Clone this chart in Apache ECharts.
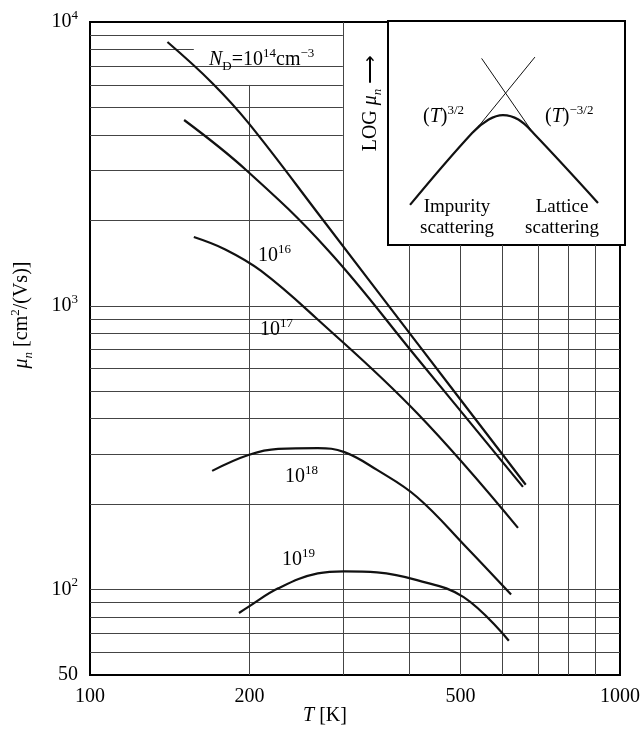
<!DOCTYPE html>
<html>
<head>
<meta charset="utf-8">
<script src="https://cdn.jsdelivr.net/npm/echarts@6/dist/echarts.min.js"></script>
<style>
  html, body { margin: 0; padding: 0; background: #fff; }
  #chart { width: 643px; height: 730px; }
</style>
</head>
<body>
<div id="chart"></div>
<script>
// electron mobility in Si vs temperature
// T in K, mu in cm2/(Vs)
const tND14 = [140, 170, 199, 275, 414, 664]
const muND14 = [8500, 6100, 4410, 2010, 740, 234]

const tND16 = [150.5, 197, 281, 414, 656]
const muND16 = [4515, 3010, 1573, 655, 230]

const tND17 = [157, 180, 210, 267, 414, 642]
const muND17 = [1748, 1580, 1330, 906, 419, 165]

const tND18 = [170, 199, 226.5, 269, 302, 348, 414, 513, 623]
const muND18 = [262, 298, 313, 315, 305, 264, 212, 141, 96]

const tND19 = [191, 199, 226.5, 269, 302, 348, 414, 507, 617]
const muND19 = [82.7, 86.9, 101, 114, 116, 115, 108, 94, 66]

// inset sketch (arbitrary log units, 0..10)
const insetCurveX = [0.93, 3.55, 4.25, 4.85, 5.50, 6.15, 8.86]
const insetCurveY = [1.79, 5.00, 5.60, 5.80, 5.60, 4.98, 1.88]
const insetRiseX = [3.80, 6.20]
const insetRiseY = [5.27, 8.39]
const insetFallX = [3.95, 6.13]
const insetFallY = [8.33, 4.99]

// graph paper lines
const tGrid = [200, 300, 400, 500, 600, 700, 800, 900]
const muGrid = [60, 70, 80, 90, 100, 200, 300, 400, 500, 600, 700, 800, 900, 1000,
  2000, 3000, 4000, 5000, 6000, 7000, 8000, 9000]

// how far each paper line runs (stops at the inset box)
const tGridTop = [6000, 10000, 1640, 1640, 1640, 1640, 1640, 1640]
const muGridEnd = [1000, 1000, 1000, 1000, 1000, 1000, 1000, 1000, 1000, 1000, 1000, 1000, 1000, 1000,
  300, 300, 300, 300, 300, 300, 157, 300]

const FONT = 'Liberation Serif'
const pairs = (xs, ys) => xs.map((x, i) => [x, ys[i]])

const rich = {
  b: { fontFamily: FONT, fontSize: 20, lineHeight: 26, color: '#000' },
  i: { fontFamily: FONT, fontSize: 20, lineHeight: 26, fontStyle: 'italic', color: '#000' },
  s: { fontFamily: FONT, fontSize: 13, lineHeight: 13, verticalAlign: 'top', color: '#000' },
  sub: { fontFamily: FONT, fontSize: 13, lineHeight: 13, verticalAlign: 'bottom', color: '#000' },
  isub: { fontFamily: FONT, fontSize: 13, lineHeight: 13, verticalAlign: 'bottom', fontStyle: 'italic', color: '#000' }
}

const gridLines = []
tGrid.forEach((t, i) => {
  gridLines.push([{ coord: [t, 50] }, { coord: [t, tGridTop[i]] }])
})
muGrid.forEach((m, i) => {
  gridLines.push([{ coord: [100, m] }, { coord: [muGridEnd[i], m] }])
})

function curve (name, xs, ys) {
  return {
    name: name,
    type: 'line',
    xAxisIndex: 0,
    yAxisIndex: 0,
    data: pairs(xs, ys),
    smooth: 0.4,
    symbol: 'none',
    lineStyle: { color: '#111', width: 2.2 },
    z: 5
  }
}

function label (x, y, text, extra) {
  return Object.assign({
    type: 'text',
    x: x,
    y: y,
    z: 100,
    style: {
      text: text,
      rich: rich,
      fontFamily: FONT,
      fontSize: 20,
      fill: '#000',
      align: 'left',
      verticalAlign: 'middle'
    }
  }, extra || {})
}

const chart = echarts.init(document.getElementById('chart'))
const option = {
  animation: false,
  backgroundColor: '#fff',
  grid: [
    { left: 90, top: 22, right: 18, bottom: 55, show: true, borderColor: '#000', borderWidth: 2 },
    { left: 388, top: 21, width: 237, height: 224, show: true, backgroundColor: '#fff', borderColor: '#000', borderWidth: 2 }
  ],
  xAxis: [
    {
      type: 'log',
      logBase: 10,
      min: 100,
      max: 1000,
      gridIndex: 0,
      axisLine: { show: false },
      axisTick: { show: false },
      splitLine: { show: false },
      axisLabel: {
        customValues: [100, 200, 500, 1000],
        fontFamily: FONT,
        fontSize: 20,
        color: '#000',
        margin: 12,
        formatter: v => String(Math.round(v))
      }
    },
    { type: 'value', gridIndex: 1, min: 0, max: 10, show: false }
  ],
  yAxis: [
    {
      type: 'log',
      logBase: 10,
      min: 50,
      max: 10000,
      gridIndex: 0,
      axisLine: { show: false },
      axisTick: { show: false },
      splitLine: { show: false },
      axisLabel: {
        customValues: [50, 100, 1000, 10000],
        margin: 12,
        rich: rich,
        formatter: v => {
          const r = Math.round(v)
          if (r === 50) return '{b|50}'
          return '{b|10}{s|' + Math.round(Math.log10(r)) + '}'
        }
      }
    },
    { type: 'value', gridIndex: 1, min: 0, max: 10, show: false }
  ],
  series: [
    {
      name: 'paper',
      type: 'line',
      xAxisIndex: 0,
      yAxisIndex: 0,
      data: [],
      markLine: {
        silent: true,
        symbol: 'none',
        label: { show: false },
        lineStyle: { color: '#444', width: 1, type: 'solid' },
        data: gridLines
      },
      z: 2
    },
    curve('1e14', tND14, muND14),
    curve('1e16', tND16, muND16),
    curve('1e17', tND17, muND17),
    curve('1e18', tND18, muND18),
    curve('1e19', tND19, muND19),
    {
      name: 'inset curve',
      type: 'line',
      xAxisIndex: 1,
      yAxisIndex: 1,
      data: pairs(insetCurveX, insetCurveY),
      smooth: 0.4,
      symbol: 'none',
      lineStyle: { color: '#111', width: 2.2 },
      z: 6
    },
    {
      name: 'inset rise',
      type: 'line',
      xAxisIndex: 1,
      yAxisIndex: 1,
      data: pairs(insetRiseX, insetRiseY),
      symbol: 'none',
      lineStyle: { color: '#111', width: 1 },
      z: 6
    },
    {
      name: 'inset fall',
      type: 'line',
      xAxisIndex: 1,
      yAxisIndex: 1,
      data: pairs(insetFallX, insetFallY),
      symbol: 'none',
      lineStyle: { color: '#111', width: 1 },
      z: 6
    }
  ],
  graphic: [
    label(209, 60, '{i|N}{sub|D}{b|=10}{s|14}{b|cm}{s|\u22123}'),
    label(258, 256, '{b|10}{s|16}'),
    label(260, 330, '{b|10}{s|17}'),
    label(285, 477, '{b|10}{s|18}'),
    label(282, 560, '{b|10}{s|19}'),
    label(423, 117, '{b|(}{i|T}{b|)}{s|3/2}'),
    label(545, 117, '{b|(}{i|T}{b|)}{s|\u22123/2}'),
    {
      type: 'text', x: 457, y: 218, z: 100,
      style: { text: 'Impurity\nscattering', fontFamily: FONT, fontSize: 19, lineHeight: 21, fill: '#000', align: 'center', verticalAlign: 'middle' }
    },
    {
      type: 'text', x: 562, y: 218, z: 100,
      style: { text: 'Lattice\nscattering', fontFamily: FONT, fontSize: 19, lineHeight: 21, fill: '#000', align: 'center', verticalAlign: 'middle' }
    },
    label(371, 103, '{b|LOG }{i|\u03bc}{isub|n}{b| \u27f6}', { rotation: Math.PI / 2 }),
    label(22, 315, '{i|\u03bc}{isub|n}{b| [cm}{s|2}{b|/(Vs)]}', { rotation: Math.PI / 2 }),
    label(325, 716, '{i|T}{b| [K]}')
  ]
}
// rotated labels are centred on their anchor
option.graphic.forEach(g => { if (g.rotation) g.style.align = 'center' })
option.graphic[option.graphic.length - 1].style.align = 'center'
chart.setOption(option)
</script>
</body>
</html>
